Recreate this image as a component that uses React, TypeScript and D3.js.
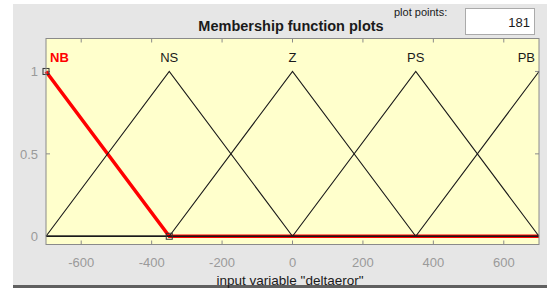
import { useEffect, useRef } from 'react'
import * as d3 from 'd3'

// membership functions (trimf params) and their labels
const mfNames = ['NB', 'NS', 'Z', 'PS', 'PB']
const mfParams = [
  [-700, -700, -350],
  [-700, -350, 0],
  [-350, 0, 350],
  [0, 350, 700],
  [350, 700, 700],
]
const labelX = [-700, -350, 0, 350, 700]
const xTicks = [-600, -400, -200, 0, 200, 400, 600]
const yTicks = [0, 0.5, 1]
const selected = 0

export default function App() {
  const svgRef = useRef<SVGSVGElement>(null)

  useEffect(() => {
    if (!svgRef.current) return
    const svg = d3.select(svgRef.current)
    svg.selectAll('*').remove()

    const W = 547
    const H = 288
    const left = 46
    const right = 539
    const top = 38.5
    const bottom = 244.5

    // panel background
    svg.append('rect').attr('width', W).attr('height', H).attr('fill', '#ffffff')
    svg.append('rect').attr('x', 13).attr('y', 4).attr('width', W - 13).attr('height', 282).attr('fill', '#e6e6e6')
    svg.append('rect').attr('x', 13).attr('y', 285).attr('width', W - 13).attr('height', 3).attr('fill', '#606060')

    const x = d3.scaleLinear().domain([-700, 700]).range([left, right])
    const y = d3.scaleLinear().domain([-0.05, 1.2]).range([bottom, top])

    svg.append('rect')
      .attr('x', left).attr('y', top)
      .attr('width', right - left).attr('height', bottom - top)
      .attr('fill', '#ffffcc')

    const font = 'Liberation Sans, Arial, sans-serif'

    // ticks inside top and bottom
    const g = svg.append('g')
    xTicks.forEach(t => {
      g.append('line').attr('x1', x(t)).attr('x2', x(t)).attr('y1', bottom).attr('y2', bottom - 4).attr('stroke', '#8a8a8a')
      g.append('line').attr('x1', x(t)).attr('x2', x(t)).attr('y1', top).attr('y2', top + 4).attr('stroke', '#8a8a8a')
      g.append('text').attr('x', x(t)).attr('y', 267).attr('text-anchor', 'middle')
        .attr('font-family', font).attr('font-size', 13).attr('fill', '#9a9a9a').text(t)
    })
    yTicks.forEach(t => {
      g.append('line').attr('x1', left).attr('x2', left + 4).attr('y1', y(t)).attr('y2', y(t)).attr('stroke', '#8a8a8a')
      g.append('line').attr('x1', right).attr('x2', right - 4).attr('y1', y(t)).attr('y2', y(t)).attr('stroke', '#8a8a8a')
      g.append('text').attr('x', left - 8).attr('y', y(t) + 5).attr('text-anchor', 'end')
        .attr('font-family', font).attr('font-size', 13).attr('fill', '#9a9a9a').text(t)
    })

    const line = d3.line<number[]>().x(d => x(d[0])).y(d => y(d[1]))
    const mfPoints = (p: number[]) => {
      const pts: number[][] = []
      if (p[0] > -700) pts.push([-700, 0])
      pts.push([p[0], p[0] === p[1] ? 1 : 0])
      pts.push([p[1], 1])
      pts.push([p[2], p[1] === p[2] ? 1 : 0])
      if (p[2] < 700) pts.push([700, 0])
      return pts
    }

    // selected MF in red, thick, underneath
    svg.append('path').attr('d', line(mfPoints(mfParams[selected])))
      .attr('fill', 'none').attr('stroke', '#ff0000').attr('stroke-width', 3.5)

    mfParams.forEach((p, i) => {
      if (i === selected) return
      svg.append('path').attr('d', line(mfPoints(p)))
        .attr('fill', 'none').attr('stroke', '#1a1a1a').attr('stroke-width', 1.1)
    })
    // zero baseline drawn over the red one
    svg.append('line').attr('x1', x(-700)).attr('x2', x(700)).attr('y1', y(0)).attr('y2', y(0))
      .attr('stroke', '#1a1a1a').attr('stroke-width', 1.1)

    // vertex markers of the selected MF
    const sel = mfParams[selected]
    ;[[sel[1], 1], [sel[2], 0]].forEach(v => {
      svg.append('rect').attr('x', x(v[0]) - 3).attr('y', y(v[1]) - 3)
        .attr('width', 6).attr('height', 6).attr('fill', 'none')
        .attr('stroke', '#333').attr('stroke-width', 1)
    })

    // frame
    svg.append('rect')
      .attr('x', left).attr('y', top)
      .attr('width', right - left).attr('height', bottom - top)
      .attr('fill', 'none').attr('stroke', '#8a8a8a')

    // MF labels
    mfNames.forEach((n, i) => {
      const lx = x(labelX[i])
      const anchor = i === 0 ? 'start' : i === mfNames.length - 1 ? 'end' : 'middle'
      svg.append('text')
        .attr('x', i === 0 ? lx + 4 : i === mfNames.length - 1 ? lx - 4 : lx)
        .attr('y', 62).attr('text-anchor', anchor)
        .attr('font-family', font).attr('font-size', 13)
        .attr('font-weight', i === selected ? 'bold' : 'normal')
        .attr('fill', i === selected ? '#ff0000' : '#1a1a1a')
        .text(n)
    })

    // title and plot points box
    svg.append('text').attr('x', 291).attr('y', 31).attr('text-anchor', 'middle')
      .attr('font-family', font).attr('font-size', 14.5).attr('font-weight', 'bold').attr('fill', '#1a1a1a')
      .text('Membership function plots')
    svg.append('text').attr('x', 394).attr('y', 16)
      .attr('font-family', font).attr('font-size', 11).attr('fill', '#1a1a1a')
      .text('plot points:')
    svg.append('rect').attr('x', 465.5).attr('y', 8.5).attr('width', 69).attr('height', 26)
      .attr('fill', '#ffffff').attr('stroke', '#aaaaaa')
    svg.append('text').attr('x', 530).attr('y', 27).attr('text-anchor', 'end')
      .attr('font-family', font).attr('font-size', 13).attr('fill', '#1a1a1a')
      .text('181')

    svg.append('text').attr('x', 290).attr('y', 285).attr('text-anchor', 'middle')
      .attr('font-family', font).attr('font-size', 13.5).attr('fill', '#1a1a1a')
      .text('input variable "deltaeror"')
  }, [])

  return (
    <div style={{ position: 'absolute', left: 0, top: 0 }}>
      <svg ref={svgRef} width={547} height={288} style={{ display: 'block' }}></svg>
    </div>
  )
}
